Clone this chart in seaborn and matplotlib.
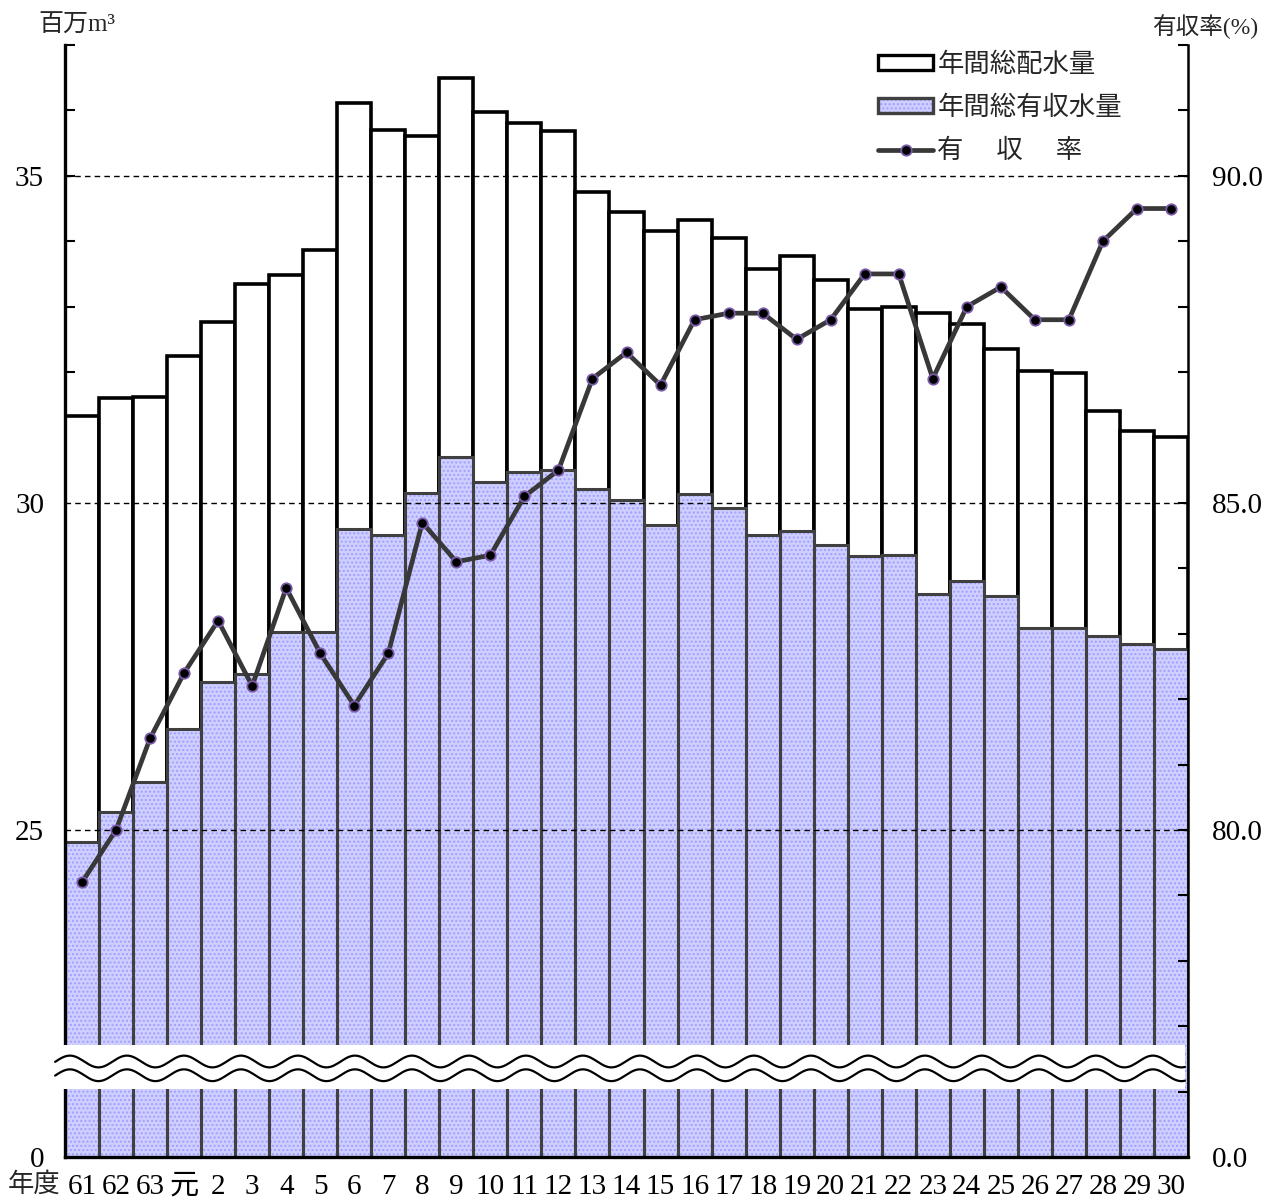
import numpy as np
import matplotlib
matplotlib.use('Agg')
import matplotlib.pyplot as plt
import seaborn as sns
import pandas as pd
from matplotlib.patches import Rectangle, Patch
from matplotlib.lines import Line2D

# ---------------- data ----------------
years = ['61', '62', '63', '元'] + [str(i) for i in range(2, 31)]
total_supply = [31.33, 31.60, 31.62, 32.24, 32.77, 33.34, 33.48, 33.87, 36.11, 35.70,
                35.61, 36.49, 35.98, 35.81, 35.69, 34.76, 34.44, 34.16, 34.33, 34.05,
                33.58, 33.78, 33.41, 32.97, 32.99, 32.91, 32.73, 32.35, 32.01, 31.98,
                31.40, 31.10, 31.01]
revenue_water = [24.82, 25.27, 25.73, 26.55, 27.26, 27.38, 28.02, 28.02, 29.60, 29.51,
                 30.15, 30.70, 30.32, 30.47, 30.50, 30.21, 30.05, 29.66, 30.14, 29.92,
                 29.51, 29.57, 29.36, 29.19, 29.21, 28.60, 28.81, 28.57, 28.09, 28.08,
                 27.96, 27.84, 27.76]
revenue_rate = [79.2, 80.0, 81.4, 82.4, 83.2, 82.2, 83.7, 82.7, 81.9, 82.7,
                84.7, 84.1, 84.2, 85.1, 85.5, 86.9, 87.3, 86.8, 87.8, 87.9,
                87.9, 87.5, 87.8, 88.5, 88.5, 86.9, 88.0, 88.3, 87.8, 87.8,
                89.0, 89.5, 89.5]
left_ticks = list(range(20, 38))
left_labels = {20: '0', 25: '25', 30: '30', 35: '35'}
right_ticks = list(range(75, 93))
right_labels = {75: '0.0', 80: '80.0', 85: '85.0', 90: '90.0'}
legend_labels = ['年間総配水量', '年間総有収水量', '有\u3000 収\u3000 率']

df = pd.DataFrame({'year': years, 'total': total_supply,
                   'revenue': revenue_water, 'rate': revenue_rate})

# ---------------- style ----------------
sns.set_theme(style='white')
plt.rcParams['font.family'] = ['Liberation Serif', 'Noto Sans CJK JP']
plt.rcParams['hatch.linewidth'] = 1.0

W, H = 1265, 1200
fig = plt.figure(figsize=(W / 100, H / 100), dpi=100)
ax = fig.add_axes([65 / W, 43 / H, (1188 - 65) / W, (1157 - 45) / H])

BLUE = '#cfcfff'
HATCH = '#a0a0ff'
EDGE = '#404040'
sns.barplot(data=df, x='year', y='total', order=years, color='white', saturation=1,
            edgecolor='black', linewidth=2.6, width=1.0, ax=ax, zorder=2)
# hatched fill of revenue bars (hatch takes the edge colour)
sns.barplot(data=df, x='year', y='revenue', order=years, color=BLUE, saturation=1,
            edgecolor=HATCH, linewidth=0, width=1.0, ax=ax, hatch='....', zorder=2.1)
# outline of revenue bars
n1 = len(ax.patches)
sns.barplot(data=df, x='year', y='revenue', order=years, color=BLUE, saturation=1,
            edgecolor=EDGE, linewidth=2.2, width=1.0, ax=ax, zorder=2.2)
for p in ax.patches[n1:]:
    p.set_facecolor('none')

ax.set_ylim(20, 37)
ax.set_xlim(-0.5, len(years) - 0.5)
for v in (25, 30, 35):
    ax.axhline(v, color='black', lw=1.0, ls=(0, (4, 3)), zorder=3)

ax.set_yticks(left_ticks)
ax.set_yticklabels([left_labels.get(t, '') for t in left_ticks])
ax.tick_params(axis='y', direction='in', length=7, width=1.5, labelsize=21, pad=15,
               colors='black', left=True)
ax.tick_params(axis='x', length=0, labelsize=21, pad=12, colors='black')
ax.set_xlabel('')
ax.set_ylabel('')
for s in ('top', 'right'):
    ax.spines[s].set_visible(False)
ax.spines['left'].set_linewidth(2.4)
ax.spines['left'].set_color('black')
ax.spines['bottom'].set_linewidth(2.4)
ax.spines['bottom'].set_color('black')

# right axis (rate)
ax2 = ax.twinx()
sns.lineplot(x=np.arange(len(years)), y=revenue_rate, ax=ax2, color='#383838', lw=3.4,
             marker='o', markersize=7.5, markerfacecolor='black',
             markeredgecolor='#7a5aa8', markeredgewidth=1.3, zorder=5)
ax2.set_ylim(75, 92)
ax2.set_xlim(-0.5, len(years) - 0.5)
ax2.set_yticks(right_ticks)
ax2.set_yticklabels([right_labels.get(t, '') for t in right_ticks])
ax2.tick_params(axis='y', direction='in', length=7, width=1.5, labelsize=21, pad=17,
                colors='black', right=True)
ax2.set_ylabel('')
for s in ('top', 'left', 'bottom'):
    ax2.spines[s].set_visible(False)
ax2.spines['right'].set_linewidth(1.8)
ax2.spines['right'].set_color('black')

# ---------------- axis break ----------------
x0, x1 = -0.79, 32.41
ax.add_patch(Rectangle((x0, 21.04), x1 - x0, 21.71 - 21.04, facecolor='white',
                       edgecolor='none', zorder=10, clip_on=False))
xs = np.linspace(x0, x1, 600)
for c in (21.46, 21.25):
    ax.plot(xs, c + 0.09 * np.cos(2 * np.pi * (xs - 1.32) / 1.675), color='black',
            lw=1.6, zorder=11, clip_on=False)

# ---------------- legend ----------------
handles = [Patch(facecolor='white', edgecolor='black', lw=2.4),
           (Patch(facecolor=BLUE, edgecolor=HATCH, lw=0, hatch='....'),
            Patch(facecolor='none', edgecolor=EDGE, lw=2.4)),
           Line2D([], [], color='#383838', lw=3.4, marker='o', markersize=7.5,
                  markerfacecolor='black', markeredgecolor='#7a5aa8', markeredgewidth=1.3)]
ax2.legend(handles, legend_labels, loc='upper left', bbox_to_anchor=(878 / W, 1 - 52 / H),
           bbox_transform=fig.transFigure, frameon=False, fontsize=19, borderpad=0,
           borderaxespad=0, handlelength=2.1, handleheight=0.5, handletextpad=0.15,
           labelspacing=0.72)

# ---------------- texts ----------------
fig.text(38 / W, 1 - 26 / H, '百万m³', fontsize=18, va='center', ha='left')
fig.text(1258 / W, 1 - 27 / H, '有収率(%)', fontsize=17, va='center', ha='right')
fig.text(8 / W, 1 - 1184 / H, '年度', fontsize=19, va='center', ha='left')

fig.savefig('out.png', dpi=100)
